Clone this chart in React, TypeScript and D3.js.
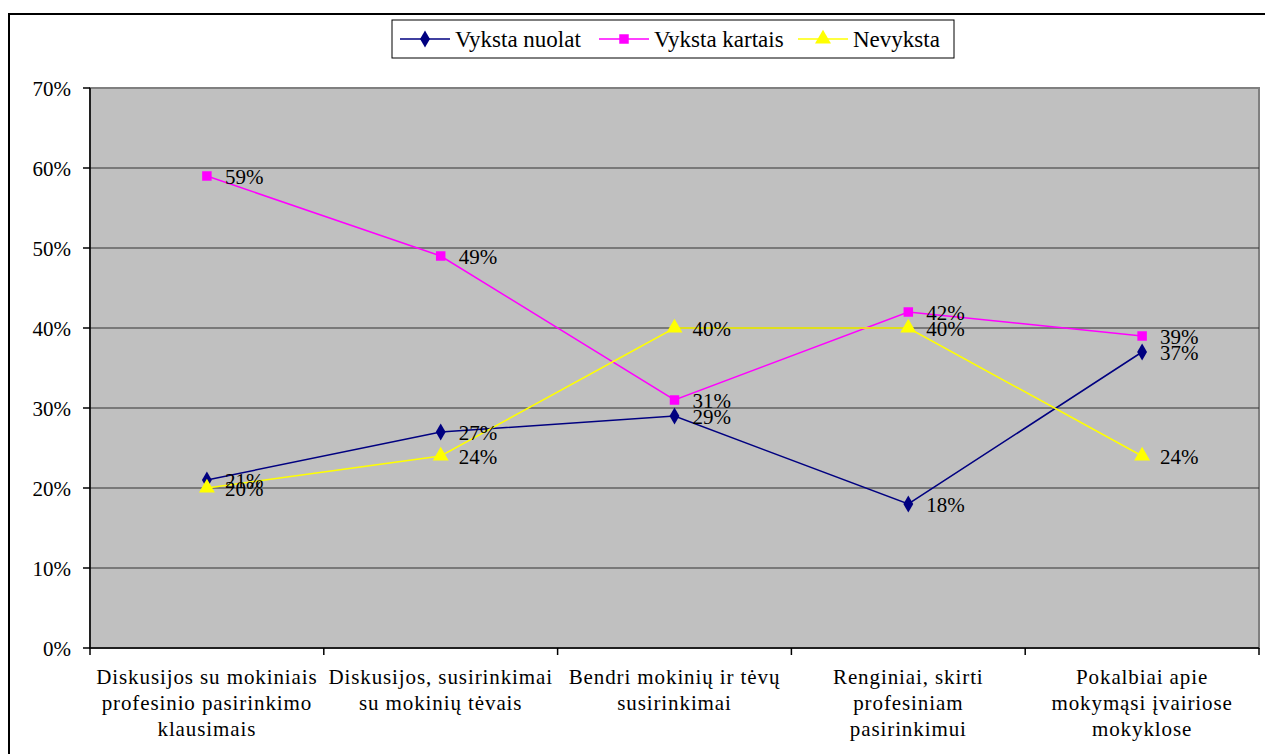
import React from "react";
import * as d3 from "d3";

const categories: string[][] = [
  ["Diskusijos su mokiniais", "profesinio pasirinkimo", "klausimais"],
  ["Diskusijos, susirinkimai", "su mokinių tėvais"],
  ["Bendri mokinių ir tėvų", "susirinkimai"],
  ["Renginiai, skirti", "profesiniam", "pasirinkimui"],
  ["Pokalbiai apie", "mokymąsi įvairiose", "mokyklose"],
];
const seriesNames = ["Vyksta nuolat", "Vyksta kartais", "Nevyksta"];
const nuolat = [21, 27, 29, 18, 37];
const kartais = [59, 49, 31, 42, 39];
const nevyksta = [20, 24, 40, 40, 24];
const yTicks = [0, 10, 20, 30, 40, 50, 60, 70];

const colors = ["#000080", "#FF00FF", "#FFFF00"];
const shapes = [d3.symbolDiamond, d3.symbolSquare, d3.symbolTriangle];
const symSizes = [85, 90, 110];

export default function App() {
  const W = 1265, H = 754;
  const left = 90, right = 1259, top = 88, bottom = 648;
  const font = "'Liberation Serif', 'Times New Roman', Times, serif";
  const ts = { fontFamily: font };
  const idx = categories.map((_, i) => i);
  const xBand = d3.scaleBand<number>().domain(idx).range([left, right]);
  const xc = (i: number) => (xBand(i) as number) + xBand.bandwidth() / 2;
  const y = d3.scaleLinear().domain([0, 70]).range([bottom, top]);
  const data = [nuolat, kartais, nevyksta];
  const line = d3.line<number>().x((_, i) => xc(i)).y((v) => y(v));
  const boundaries = d3.range(categories.length + 1).map((i) =>
    i < categories.length ? (xBand(i) as number) : right
  );

  const legendItems = [
    { x: 400, tx: 455 },
    { x: 599, tx: 654 },
    { x: 798, tx: 853 },
  ];

  return (
    <svg width={W} height={H} style={{ position: "absolute", left: 0, top: 0, fontFamily: font }}>
      <rect x={0} y={0} width={W} height={H} fill="#fff" />
      <rect x={9} y={14} width={1262} height={750} fill="#fff" stroke="#000" strokeWidth={2} />
      <rect x={left} y={top} width={right - left} height={bottom - top} fill="#C0C0C0" stroke="#808080" strokeWidth={2} />
      {yTicks.slice(1, -1).map((t) => (
        <line key={t} x1={left} x2={right} y1={y(t)} y2={y(t)} stroke="#333" strokeWidth={1} />
      ))}
      <line x1={left} x2={left} y1={top} y2={bottom} stroke="#000" strokeWidth={1.5} />
      <line x1={left} x2={right} y1={bottom} y2={bottom} stroke="#000" strokeWidth={1.5} />
      {yTicks.map((t) => (
        <g key={t}>
          <line x1={left - 7} x2={left} y1={y(t)} y2={y(t)} stroke="#000" strokeWidth={1.5} />
          <text x={71} y={y(t) + 8} textAnchor="end" fontSize={21} fill="#000" style={ts}>{t}%</text>
        </g>
      ))}
      {boundaries.map((b, i) => (
        <line key={i} x1={b} x2={b} y1={bottom} y2={bottom + 7} stroke="#000" strokeWidth={1.5} />
      ))}
      {categories.map((lines, i) => (
        <text key={i} x={xc(i)} textAnchor="middle" fontSize={21} letterSpacing={0.9} fill="#000" style={ts}>
          {lines.map((l, j) => (
            <tspan key={j} x={xc(i)} y={684 + j * 26}>{l}</tspan>
          ))}
        </text>
      ))}
      {data.map((d, s) => (
        <path key={s} d={line(d) || ""} fill="none" stroke={colors[s]} strokeWidth={1.5} />
      ))}
      {data.map((d, s) =>
        d.map((v, i) => (
          <path key={`${s}-${i}`} d={d3.symbol().type(shapes[s]).size(symSizes[s])() || ""}
            transform={`translate(${xc(i)},${y(v)})`} fill={colors[s]} />
        ))
      )}
      {data.map((d, s) =>
        d.map((v, i) => (
          <text key={`l${s}-${i}`} x={xc(i) + 18} y={y(v) + 8} fontSize={21} fill="#000" style={ts}>{v}%</text>
        ))
      )}
      <rect x={392} y={20} width={562} height={38} fill="#fff" stroke="#000" strokeWidth={1} />
      {seriesNames.map((n, s) => (
        <g key={n}>
          <line x1={legendItems[s].x} x2={legendItems[s].x + 50} y1={39} y2={39} stroke={colors[s]} strokeWidth={1.5} />
          <path d={d3.symbol().type(shapes[s]).size(symSizes[s])() || ""}
            transform={`translate(${legendItems[s].x + 25},39)`} fill={colors[s]} />
          <text x={legendItems[s].tx} y={47} fontSize={23} fill="#000" style={ts}>{n}</text>
        </g>
      ))}
    </svg>
  );
}
